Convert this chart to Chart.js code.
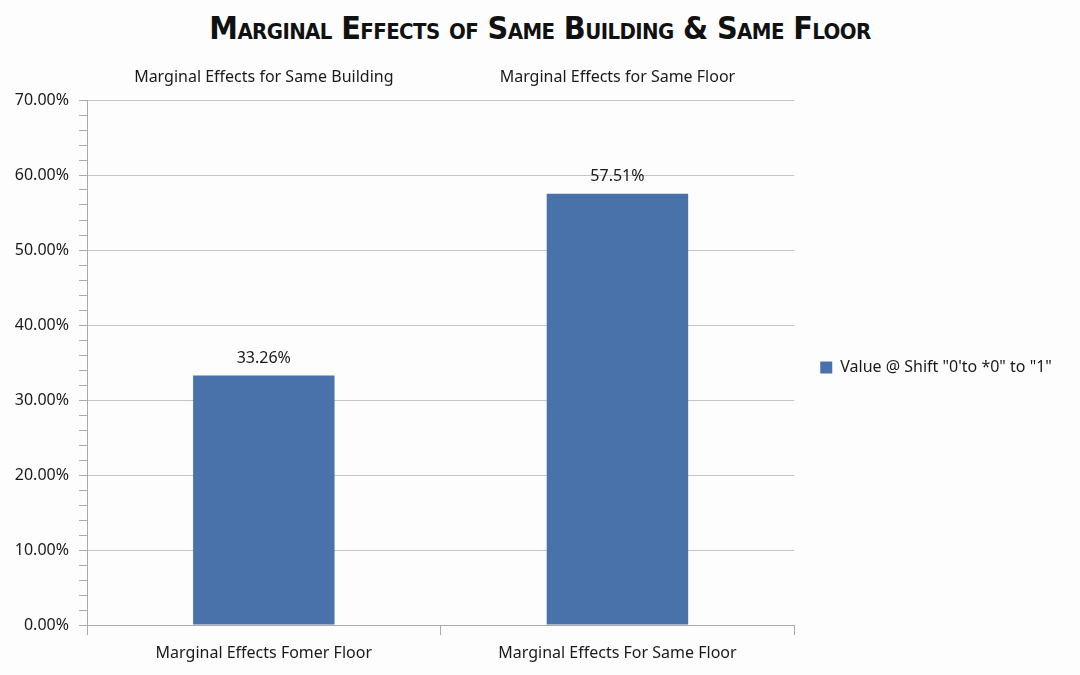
<!DOCTYPE html>
<html lang="en">

<head>
    <meta charset="UTF-8">
    <title>Marginal Effects of Same Building & Same Floor</title>
    <script src="https://cdn.jsdelivr.net/npm/chart.js"></script>
    <style>
        body { margin: 0; background: #fdfdfd; }
        .wrap { position: relative; width: 1080px; height: 675px; }
        .title {
            position: absolute; left: 0; top: 9px; width: 1080px; text-align: center;
            font-family: "DejaVu Sans Condensed", "Liberation Sans Narrow", sans-serif;
            font-weight: bold; font-variant: small-caps; font-size: 32px; color: #111;
            letter-spacing: -0.6px;
        }
        canvas { position: absolute; left: 0; top: 0; }
    </style>
</head>

<body>
    <div class="wrap">
        <div class="title">Marginal Effects of Same Building &amp; Same Floor</div>
        <canvas id="chart" width="1080" height="675"></canvas>
    </div>
    <script>
        // données
        const categories = ['Marginal Effects Fomer Floor', 'Marginal Effects For Same Floor'];
        const topLabels = ['Marginal Effects for Same Building', 'Marginal Effects for Same Floor'];
        const seriesName = 'Value @ Shift "0\'to *0" to "1"';
        const values = [33.26, 57.51];

        const textFont = '"Noto Sans", sans-serif';
        const barColor = '#4a72aa';

        // étiquettes au-dessus des barres
        const valueLabels = {
            id: 'valueLabels',
            afterDatasetsDraw(chart) {
                const ctx = chart.ctx;
                const meta = chart.getDatasetMeta(0);
                ctx.save();
                ctx.font = '16px ' + textFont;
                ctx.fillStyle = '#1a1a1a';
                ctx.textAlign = 'center';
                ctx.textBaseline = 'bottom';
                meta.data.forEach((bar, i) => {
                    ctx.fillText(values[i].toFixed(2) + '%', bar.x, bar.y - 9);
                });
                ctx.restore();
            }
        };

        new Chart(document.getElementById('chart').getContext('2d'), {
            type: 'bar',
            data: {
                labels: categories,
                datasets: [{
                    label: seriesName,
                    data: values,
                    backgroundColor: barColor,
                    borderWidth: 0,
                    categoryPercentage: 0.8,
                    barPercentage: 0.5
                }]
            },
            options: {
                responsive: false,
                animation: false,
                layout: { padding: { top: 60, left: 0, right: 21, bottom: 0 } },
                scales: {
                    x: {
                        position: 'bottom',
                        offset: true,
                        afterFit: s => { s.height = 50; },
                        grid: { offset: true, drawOnChartArea: false, tickLength: 10, color: '#aaa' },
                        border: { color: '#aaa' },
                        ticks: { color: '#1a1a1a', font: { family: textFont, size: 16 }, padding: 9 }
                    },
                    xTop: {
                        type: 'category',
                        position: 'top',
                        labels: topLabels,
                        offset: true,
                        afterFit: s => { s.height = 40; },
                        grid: { display: false },
                        border: { display: false },
                        ticks: { color: '#1a1a1a', font: { family: textFont, size: 16 }, padding: 5 }
                    },
                    y: {
                        min: 0,
                        max: 70,
                        afterFit: s => { s.width = 87; },
                        border: { color: '#aaa' },
                        grid: {
                            color: c => (c.tick && c.tick.value % 10 === 0) ? '#c4c4c4' : 'transparent',
                            tickColor: '#aaa',
                            tickLength: 8
                        },
                        ticks: {
                            stepSize: 2,
                            autoSkip: false,
                            color: '#1a1a1a',
                            padding: 10,
                            font: { family: textFont, size: 16 },
                            callback: v => v % 10 === 0 ? v.toFixed(2) + '%' : ''
                        }
                    }
                },
                plugins: {
                    legend: {
                        position: 'right',
                        labels: {
                            color: '#1a1a1a',
                            boxWidth: 12,
                            boxHeight: 12,
                            padding: 26,
                            font: { family: textFont, size: 16 }
                        }
                    },
                    tooltip: { enabled: false }
                }
            },
            plugins: [valueLabels]
        });
    </script>
</body>

</html>
